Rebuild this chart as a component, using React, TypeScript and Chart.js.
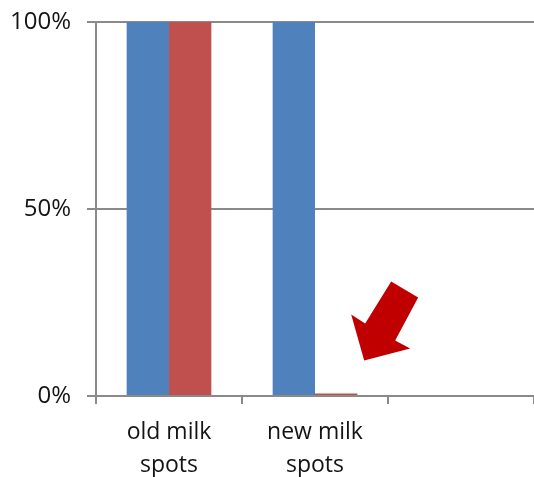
import React, { useEffect, useRef } from "react";
import { Chart, registerables } from "chart.js";

Chart.register(...registerables);

// Share of spots detected, per spot type and method
const categories: (string | string[])[] = [["old milk", "spots"], ["new milk", "spots"], ""];
const seriesA: (number | null)[] = [1.0, 1.0, null];
const seriesB: (number | null)[] = [1.0, 0.007, null];
const yTicks = [0, 0.5, 1];

const BLUE = "#4F81BD";
const RED = "#C0504D";
const ARROW = "#C00000";
const AXIS = "#8a8a8a";
const TEXT = "#141414";
const FONT = "'Open Sans', 'DejaVu Sans', sans-serif";

// Arrow outline, relative to its tip
const arrowShape: [number, number][] = [
  [27, -79],
  [54, -63],
  [31, -20],
  [46, -12],
  [0, 0],
  [-13, -46],
  [1, -37],
];

const arrowPlugin = {
  id: "pointerArrow",
  afterDatasetsDraw(chart: any) {
    const meta = chart.getDatasetMeta(1);
    const bar = meta.data[1];
    if (!bar) return;
    const tipX = bar.x + 28;
    const tipY = bar.y - 33;
    const ctx = chart.ctx;
    ctx.save();
    ctx.beginPath();
    arrowShape.forEach(([dx, dy], i) => {
      if (i === 0) ctx.moveTo(tipX + dx, tipY + dy);
      else ctx.lineTo(tipX + dx, tipY + dy);
    });
    ctx.closePath();
    ctx.fillStyle = ARROW;
    ctx.fill();
    ctx.restore();
  },
};

export default function App() {
  const canvasRef = useRef<HTMLCanvasElement | null>(null);

  useEffect(() => {
    if (!canvasRef.current) return;
    const chart = new Chart(canvasRef.current, {
      type: "bar",
      data: {
        labels: categories,
        datasets: [
          { data: seriesA, backgroundColor: BLUE, borderWidth: 0 },
          { data: seriesB, backgroundColor: RED, borderWidth: 0 },
        ],
      },
      options: {
        animation: false,
        responsive: false,
        devicePixelRatio: 1,
        layout: { padding: { top: 22, right: 0, bottom: 0, left: 0 } },
        datasets: {
          bar: { categoryPercentage: 0.58, barPercentage: 1.0 },
        },
        plugins: {
          legend: { display: false },
          tooltip: { enabled: false },
        },
        scales: {
          x: {
            offset: true,
            grid: {
              offset: true,
              drawOnChartArea: false,
              drawTicks: true,
              tickLength: 8,
              color: AXIS,
              lineWidth: 2,
            },
            border: { color: AXIS, width: 2 },
            ticks: {
              color: TEXT,
              font: { family: FONT, size: 23, lineHeight: 1.42 },
              padding: 12,
              maxRotation: 0,
              autoSkip: false,
            },
            afterFit(scale: any) {
              scale.height = 81;
              scale.paddingLeft = 0;
              scale.paddingRight = 0;
            },
          },
          y: {
            min: 0,
            max: 1,
            afterBuildTicks(scale: any) {
              scale.ticks = yTicks.map((v) => ({ value: v }));
            },
            grid: {
              color: AXIS,
              lineWidth: 2,
              tickLength: 9,
            },
            border: { color: AXIS, width: 2 },
            ticks: {
              color: TEXT,
              font: { family: FONT, size: 24 },
              padding: 16,
              callback: (v: any) => `${Math.round(Number(v) * 100)}%`,
            },
            afterFit(scale: any) {
              scale.width = 96;
              scale.paddingTop = 0;
              scale.paddingBottom = 0;
            },
          },
        },
      },
      plugins: [arrowPlugin],
    });
    return () => chart.destroy();
  }, []);

  return (
    <div style={{ position: "fixed", left: 0, top: 0, width: 534, height: 477, background: "#fff" }}>
      <canvas ref={canvasRef} width={534} height={477} style={{ display: "block" }} />
    </div>
  );
}
